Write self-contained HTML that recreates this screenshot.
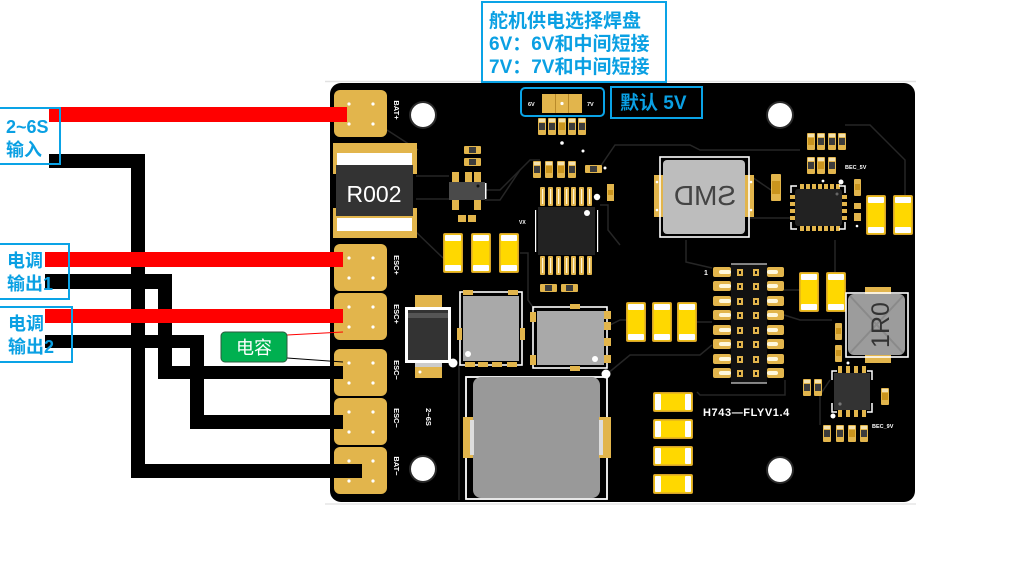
<!DOCTYPE html>
<html><head><meta charset="utf-8"><style>
html,body{margin:0;padding:0;background:#fff;}
svg{display:block;}
</style></head><body>
<svg width="1030" height="577" viewBox="0 0 1030 577" xmlns="http://www.w3.org/2000/svg" font-family="'Liberation Sans','Noto Sans CJK SC',sans-serif">
<defs>
<g id="capV"><rect x="0" y="0" width="20" height="40" rx="2" fill="#d6a22a"/><rect x="1.5" y="1.5" width="17" height="37" fill="#ffd800"/><rect x="2" y="2" width="16" height="6" rx="1" fill="#fff"/><rect x="2" y="32" width="16" height="6" rx="1" fill="#fff"/></g>
<g id="capH"><rect x="0" y="0" width="40" height="20" rx="2" fill="#d6a22a"/><rect x="1.5" y="1.5" width="37" height="17" fill="#ffd800"/><rect x="2" y="2" width="6" height="16" rx="1" fill="#fff"/><rect x="32" y="2" width="6" height="16" rx="1" fill="#fff"/></g>
<g id="resV"><rect x="0" y="0" width="8" height="17" rx="1" fill="#e2b54c"/><rect x="1" y="5" width="6" height="7" fill="#3c3c3c"/><rect x="1" y="1" width="6" height="3" fill="#f4e2b0"/></g>
<g id="resVg"><rect x="0" y="0" width="8" height="17" rx="1" fill="#e2b54c"/><rect x="1" y="5" width="6" height="7" fill="#c9941e"/><rect x="1" y="1" width="6" height="3" fill="#f4e2b0"/></g>
<g id="resH"><rect x="0" y="0" width="17" height="8" rx="1" fill="#e2b54c"/><rect x="5" y="1" width="7" height="6" fill="#3c3c3c"/></g>
<g id="pin"><rect x="0" y="0" width="5" height="19" rx="1" fill="#e2b54c"/><rect x="2" y="2" width="1.2" height="15" fill="#fff6d8"/></g>
<g id="pad"><rect x="0" y="0" width="53" height="47" rx="6" fill="#e2b54c"/><circle cx="15" cy="14" r="1.6" fill="#fff"/><circle cx="39" cy="14" r="1.6" fill="#fff"/><circle cx="15" cy="34" r="1.6" fill="#fff"/><circle cx="39" cy="34" r="1.6" fill="#fff"/></g>
<g id="hole"><circle cx="0" cy="0" r="14" fill="#2a2a2a"/><circle cx="0" cy="0" r="12" fill="#fff"/></g>
<g id="hdrRow"><rect x="0" y="0" width="18" height="10" rx="2" fill="#e2b54c"/><rect x="6" y="3" width="12" height="4" rx="2" fill="#fff8dc"/><rect x="54" y="0" width="17" height="10" rx="2" fill="#e2b54c"/><rect x="54" y="3" width="11" height="4" rx="2" fill="#fff8dc"/><rect x="24" y="2" width="6" height="7" fill="#e2b54c"/><rect x="26" y="4" width="2" height="3" fill="#111"/><rect x="40" y="2" width="6" height="7" fill="#e2b54c"/><rect x="42" y="4" width="2" height="3" fill="#111"/></g>
</defs>

<!-- faint frame lines -->
<line x1="325" y1="81.5" x2="916" y2="81.5" stroke="#e2e2e2" stroke-width="1.5"/>
<line x1="325" y1="504" x2="916" y2="504" stroke="#e6e6e6" stroke-width="1.5"/>

<!-- board -->
<rect x="330" y="83" width="585" height="419" rx="11" fill="#000"/>

<!-- traces -->
<g stroke="#262626" stroke-width="1.5" fill="none">
<path d="M416 176 H449 M416 199 H449"/>
<path d="M387 130 L418 150"/>
<path d="M416 232 L443 258"/>
<path d="M485 190 L500 190 L530 160 L540 160"/>
<path d="M485 200 L500 200 L520 170"/>
<path d="M520 253 L528 253 L528 300 L535 310"/>
<path d="M600 205 L608 205 L608 230 L620 245"/>
<path d="M598 170 L615 145 L660 145 L690 145 L700 150 L800 150"/>
<path d="M749 218 L790 218"/>
<path d="M749 175 L771 190"/>
<path d="M580 340 L620 320 L626 320"/>
<path d="M607 374 L630 355 L700 355 L712 345"/>
<path d="M459 365 V500"/>
<path d="M697 322 L712 322"/>
<path d="M784 290 L799 290"/>
<path d="M784 315 L800 320 L832 320"/>
<path d="M785 380 L785 395 L700 395 L697 392"/>
<path d="M846 290 L835 275 L835 240"/>
<path d="M830 380 L820 395 L820 425"/>
<path d="M686 240 V262 L712 268"/>
<path d="M845 125 L870 125 L905 160 L905 195"/>
</g>

<!-- left pads -->
<use href="#pad" x="334" y="90"/>
<use href="#pad" x="334" y="244"/>
<use href="#pad" x="334" y="293"/>
<use href="#pad" x="334" y="349"/>
<use href="#pad" x="334" y="398"/>
<use href="#pad" x="334" y="447"/>

<!-- pad labels -->
<g fill="#fff" font-size="7.5" font-weight="bold" text-anchor="middle">
<text transform="translate(394,110) rotate(90)">BAT+</text>
<text transform="translate(394,265) rotate(90)">ESC+</text>
<text transform="translate(394,314) rotate(90)">ESC+</text>
<text transform="translate(394,370) rotate(90)">ESC−</text>
<text transform="translate(394,418) rotate(90)">ESC−</text>
<text transform="translate(394,466) rotate(90)">BAT−</text>
<text transform="translate(426,417) rotate(90)">2~6S</text>
</g>

<!-- holes -->
<use href="#hole" x="423" y="115"/>
<use href="#hole" x="780" y="115"/>
<use href="#hole" x="423" y="469"/>
<use href="#hole" x="780" y="470"/>

<!-- R002 shunt -->
<rect x="333" y="143" width="84" height="31" fill="#e2b54c"/>
<rect x="333" y="208" width="84" height="30" fill="#e2b54c"/>
<rect x="337" y="153" width="75" height="12" fill="#fff"/>
<rect x="337" y="218" width="75" height="13" fill="#fff"/>
<rect x="336" y="165" width="77" height="51" fill="#333"/>
<text x="374" y="202" font-size="23" fill="#fff" text-anchor="middle">R002</text>

<!-- sense amp area -->
<use href="#resH" x="464" y="146"/>
<use href="#resH" x="464" y="158"/>
<rect x="452" y="172" width="7" height="10" fill="#e2b54c"/>
<rect x="465" y="172" width="7" height="10" fill="#e2b54c"/>
<rect x="474" y="172" width="7" height="10" fill="#e2b54c"/>
<rect x="452" y="200" width="7" height="10" fill="#e2b54c"/>
<rect x="474" y="200" width="7" height="10" fill="#e2b54c"/>
<rect x="449" y="182" width="36" height="18" fill="#4a4a4a"/>
<rect x="485" y="183" width="1.5" height="16" fill="#fff"/>
<circle cx="478" cy="186" r="1.5" fill="#111"/>
<rect x="458" y="215" width="8" height="7" fill="#e2b54c"/><rect x="468" y="215" width="8" height="7" fill="#e2b54c"/>

<!-- 3 yellow caps -->
<use href="#capV" x="443" y="233"/>
<use href="#capV" x="471" y="233"/>
<use href="#capV" x="499" y="233"/>

<!-- jumper resistors row -->
<use href="#resV" x="538" y="118"/>
<use href="#resV" x="548" y="118"/>
<use href="#resVg" x="558" y="118"/>
<use href="#resV" x="568" y="118"/>
<use href="#resV" x="578" y="118"/>
<circle cx="562" cy="143" r="1.8" fill="#fff"/>
<circle cx="583" cy="151" r="1.5" fill="#fff"/>

<!-- TSSOP IC -->
<use href="#resV" x="533" y="161"/>
<use href="#resVg" x="545" y="161"/>
<use href="#resVg" x="557" y="161"/>
<use href="#resV" x="568" y="161"/>
<use href="#resH" x="585" y="165"/>
<circle cx="605" cy="168" r="1.5" fill="#fff"/>
<use href="#pin" x="540" y="187"/><use href="#pin" x="548" y="187"/><use href="#pin" x="556" y="187"/><use href="#pin" x="564" y="187"/><use href="#pin" x="571" y="187"/><use href="#pin" x="579" y="187"/><use href="#pin" x="587" y="187"/>
<use href="#pin" x="540" y="256"/><use href="#pin" x="548" y="256"/><use href="#pin" x="556" y="256"/><use href="#pin" x="564" y="256"/><use href="#pin" x="571" y="256"/><use href="#pin" x="579" y="256"/><use href="#pin" x="587" y="256"/>
<rect x="538" y="207" width="57" height="48" fill="#222"/>
<rect x="535" y="210" width="1.2" height="42" fill="#fff"/>
<rect x="597" y="210" width="1.2" height="42" fill="#fff"/>
<circle cx="587" cy="213" r="3" fill="#fff"/>
<circle cx="597" cy="197" r="3.2" fill="#fff"/>
<rect x="607" y="184" width="7" height="17" fill="#e2b54c"/><rect x="608" y="190" width="5" height="5" fill="#c9941e"/>
<text x="519" y="224" font-size="5" fill="#fff" font-weight="bold">VX</text>
<use href="#resH" x="540" y="284"/>
<use href="#resH" x="561" y="284"/>

<!-- diode -->
<rect x="415" y="295" width="27" height="13" fill="#e2b54c"/>
<rect x="415" y="362" width="27" height="16" fill="#e2b54c"/>
<rect x="405" y="307" width="46" height="56" fill="#fff"/>
<rect x="408" y="310" width="40" height="50" fill="#333"/>
<rect x="408" y="313" width="40" height="5" fill="#555"/>
<rect x="415" y="363" width="27" height="4" fill="#ccc"/>
<circle cx="420" cy="372" r="1.5" fill="#fff"/>
<circle cx="453" cy="363" r="4.5" fill="#fff"/>

<!-- inductor 1 -->
<rect x="460" y="292" width="62" height="73" fill="none" stroke="#fff" stroke-width="1.6"/>
<rect x="463" y="296" width="56" height="65" fill="#a9a9a9"/>
<rect x="463" y="290" width="10" height="5" fill="#e2b54c"/><rect x="508" y="290" width="10" height="5" fill="#e2b54c"/>
<rect x="465" y="362" width="10" height="5" fill="#e2b54c"/><rect x="478" y="362" width="10" height="5" fill="#e2b54c"/><rect x="492" y="362" width="10" height="5" fill="#e2b54c"/><rect x="507" y="362" width="10" height="5" fill="#e2b54c"/>
<rect x="457" y="328" width="5" height="12" fill="#e2b54c"/><rect x="520" y="328" width="5" height="12" fill="#e2b54c"/>
<circle cx="468" cy="354" r="3" fill="#fff"/>

<!-- inductor 2 -->
<rect x="533" y="307" width="74" height="61" fill="none" stroke="#fff" stroke-width="1.6"/>
<rect x="537" y="311" width="67" height="54" fill="#a9a9a9"/>
<rect x="570" y="304" width="10" height="5" fill="#e2b54c"/><rect x="570" y="366" width="10" height="5" fill="#e2b54c"/>
<rect x="604" y="311" width="7" height="8" fill="#e2b54c"/><rect x="604" y="322" width="7" height="8" fill="#e2b54c"/><rect x="604" y="338" width="7" height="8" fill="#e2b54c"/><rect x="604" y="355" width="7" height="8" fill="#e2b54c"/>
<rect x="530" y="312" width="6" height="10" fill="#e2b54c"/><rect x="530" y="355" width="6" height="10" fill="#e2b54c"/>
<circle cx="595" cy="359" r="3" fill="#fff"/>
<circle cx="606" cy="374" r="4.5" fill="#fff"/>

<!-- big inductor -->
<rect x="466" y="377" width="141" height="122" fill="none" stroke="#fff" stroke-width="1.8"/>
<rect x="473" y="377" width="127" height="121" rx="8" fill="#999"/>
<rect x="463" y="417" width="10" height="41" fill="#e2b54c"/><rect x="470" y="420" width="4" height="35" fill="#ddd"/>
<rect x="599" y="417" width="12" height="41" fill="#e2b54c"/><rect x="599" y="420" width="4" height="35" fill="#ddd"/>

<!-- 4 horizontal caps -->
<use href="#capH" x="653" y="392"/>
<use href="#capH" x="653" y="419"/>
<use href="#capH" x="653" y="446"/>
<use href="#capH" x="653" y="474"/>

<!-- SMD inductor -->
<rect x="654" y="175" width="11" height="42" fill="#e2b54c"/>
<rect x="743" y="175" width="11" height="42" fill="#e2b54c"/>
<circle cx="657" cy="182" r="1.3" fill="#fff"/><circle cx="657" cy="210" r="1.3" fill="#fff"/>
<circle cx="751" cy="182" r="1.3" fill="#fff"/><circle cx="751" cy="210" r="1.3" fill="#fff"/>
<rect x="660" y="157" width="89" height="80" fill="none" stroke="#fff" stroke-width="1.6"/>
<rect x="663" y="160" width="82" height="74" rx="4" fill="#bdbdbd"/>
<text transform="translate(705,205) scale(-1,1)" font-size="28" fill="#444" text-anchor="middle">SMD</text>

<!-- right top small parts -->
<rect x="771" y="174" width="10" height="27" rx="1" fill="#e2b54c"/><rect x="772" y="181" width="8" height="13" fill="#c9941e"/>
<use href="#resVg" x="807" y="133"/><use href="#resV" x="817" y="133"/><use href="#resV" x="828" y="133"/><use href="#resV" x="838" y="133"/>
<use href="#resV" x="807" y="157"/><use href="#resVg" x="817" y="157"/><use href="#resV" x="828" y="157"/>
<text x="845" y="169" font-size="5.5" fill="#fff" font-weight="bold">BEC_5V</text>

<!-- QFN -->
<g fill="#e2b54c">
<rect x="800" y="184" width="4" height="5"/><rect x="806" y="184" width="4" height="5"/><rect x="812" y="184" width="4" height="5"/><rect x="818" y="184" width="4" height="5"/><rect x="824" y="184" width="4" height="5"/><rect x="830" y="184" width="4" height="5"/><rect x="836" y="184" width="4" height="5"/>
<rect x="800" y="226" width="4" height="5"/><rect x="806" y="226" width="4" height="5"/><rect x="812" y="226" width="4" height="5"/><rect x="818" y="226" width="4" height="5"/><rect x="824" y="226" width="4" height="5"/><rect x="830" y="226" width="4" height="5"/><rect x="836" y="226" width="4" height="5"/>
<rect x="790" y="195" width="5" height="4"/><rect x="790" y="202" width="5" height="4"/><rect x="790" y="209" width="5" height="4"/><rect x="790" y="216" width="5" height="4"/>
<rect x="842" y="195" width="5" height="4"/><rect x="842" y="202" width="5" height="4"/><rect x="842" y="209" width="5" height="4"/><rect x="842" y="216" width="5" height="4"/>
</g>
<rect x="795" y="189" width="47" height="37" rx="3" fill="#222"/>
<path d="M791 193 V186 H797 M839 186 H845 V193 M791 222 V229 H797 M839 229 H845 V222" stroke="#fff" stroke-width="1.5" fill="none"/>
<circle cx="837" cy="194" r="1.5" fill="#666"/>
<circle cx="823" cy="181" r="1.4" fill="#fff"/><circle cx="841" cy="182" r="2.5" fill="#fff"/>
<rect x="854" y="179" width="7" height="17" rx="1" fill="#e2b54c"/><rect x="855" y="184" width="5" height="6" fill="#c9941e"/>
<rect x="854" y="203" width="7" height="6" fill="#e2b54c"/><rect x="854" y="213" width="7" height="8" fill="#e2b54c"/>
<circle cx="857" cy="226" r="1.3" fill="#fff"/>
<use href="#capV" x="866" y="195"/>
<use href="#capV" x="893" y="195"/>

<!-- header -->
<rect x="731" y="264" width="36" height="119" fill="#111"/>
<line x1="731" y1="264" x2="767" y2="264" stroke="#fff" stroke-width="1"/>
<line x1="731" y1="383" x2="767" y2="383" stroke="#fff" stroke-width="1"/>
<use href="#hdrRow" x="713" y="267"/>
<use href="#hdrRow" x="713" y="281"/>
<use href="#hdrRow" x="713" y="296"/>
<use href="#hdrRow" x="713" y="310"/>
<use href="#hdrRow" x="713" y="325"/>
<use href="#hdrRow" x="713" y="339"/>
<use href="#hdrRow" x="713" y="354"/>
<use href="#hdrRow" x="713" y="368"/>
<text x="704" y="275" font-size="7" fill="#fff" font-weight="bold">1</text>

<!-- 3 caps mid -->
<use href="#capV" x="626" y="302"/>
<use href="#capV" x="652" y="302"/>
<use href="#capV" x="677" y="302"/>

<!-- 2 caps right -->
<use href="#capV" x="799" y="272"/>
<use href="#capV" x="826" y="272"/>

<!-- 1R0 inductor -->
<rect x="865" y="287" width="26" height="8" fill="#e2b54c"/>
<rect x="865" y="355" width="26" height="8" fill="#e2b54c"/>
<rect x="846" y="293" width="62" height="64" fill="none" stroke="#fff" stroke-width="1.6"/>
<rect x="848" y="294" width="57" height="61" rx="6" fill="#9c9c9c"/>
<path d="M850 296 L903 353 M903 296 L850 353" stroke="#8a8a8a" stroke-width="2"/>
<text transform="translate(889,325) rotate(-90)" font-size="25" fill="#333" text-anchor="middle">1R0</text>
<rect x="835" y="323" width="7" height="17" rx="1" fill="#e2b54c"/><rect x="836" y="328" width="5" height="6" fill="#c9941e"/>
<rect x="835" y="345" width="7" height="17" rx="1" fill="#e2b54c"/><rect x="836" y="350" width="5" height="6" fill="#c9941e"/>
<circle cx="848" cy="363" r="1.5" fill="#fff"/>

<!-- SOIC-8 -->
<g fill="#e2b54c">
<rect x="838" y="366" width="4" height="7"/><rect x="846" y="366" width="4" height="7"/><rect x="854" y="366" width="4" height="7"/><rect x="862" y="366" width="4" height="7"/>
<rect x="838" y="410" width="4" height="7"/><rect x="846" y="410" width="4" height="7"/><rect x="854" y="410" width="4" height="7"/><rect x="862" y="410" width="4" height="7"/>
</g>
<rect x="834" y="373" width="36" height="37" fill="#333"/>
<path d="M832 380 V371 H837 M867 371 H872 V380 M832 403 V412 H837 M867 412 H872 V403" stroke="#fff" stroke-width="1.5" fill="none"/>
<circle cx="840" cy="404" r="1.6" fill="#777"/>
<circle cx="833" cy="416" r="2.5" fill="#fff"/>
<use href="#resV" x="803" y="379"/>
<use href="#resV" x="814" y="379"/>
<use href="#resVg" x="881" y="388"/>
<use href="#resV" x="823" y="425"/><use href="#resV" x="836" y="425"/><use href="#resVg" x="848" y="425"/><use href="#resV" x="860" y="425"/>
<text x="872" y="428" font-size="5.5" fill="#fff" font-weight="bold">BEC_9V</text>

<text x="703" y="416" font-size="11" fill="#fff" font-weight="bold" letter-spacing="0.6">H743—FLYV1.4</text>

<!-- wires black -->
<g fill="#000">
<rect x="49" y="154" width="96" height="14"/>
<rect x="131" y="154" width="14" height="324"/>
<rect x="131" y="464" width="231" height="14"/>
<rect x="45" y="274" width="127" height="15"/>
<rect x="158" y="274" width="14" height="105"/>
<rect x="158" y="366" width="185" height="13"/>
<rect x="45" y="335" width="159" height="13"/>
<rect x="190" y="335" width="14" height="94"/>
<rect x="190" y="415" width="153" height="14"/>
</g>
<!-- wires red -->
<g fill="#ff0000">
<rect x="49" y="107" width="298" height="15"/>
<rect x="45" y="252" width="298" height="15"/>
<rect x="45" y="309" width="298" height="14"/>
</g>

<!-- capacitor label -->
<line x1="287" y1="335" x2="343" y2="332" stroke="#ff0000" stroke-width="1"/>
<line x1="287" y1="358" x2="343" y2="362" stroke="#000" stroke-width="1"/>
<rect x="221" y="332" width="66" height="30" rx="4" fill="#00b050" stroke="#2b5a3c" stroke-width="1"/>
<text x="254" y="354" font-size="18" fill="#fff" text-anchor="middle">电容</text>

<!-- blue label boxes -->
<g fill="none" stroke="#0aa3e6" stroke-width="2">
<rect x="-1" y="108" width="61" height="56"/>
<rect x="-1" y="244" width="70" height="55"/>
<rect x="-1" y="307" width="73" height="55"/>
<rect x="482" y="2" width="184" height="80"/>
<rect x="521" y="88" width="83" height="28" rx="4"/>
<rect x="611" y="87" width="91" height="31"/>
</g>
<g fill="#0aa0e3" font-size="18" font-weight="bold">
<text x="6" y="133">2~6S</text>
<text x="6" y="156">输入</text>
<text x="7" y="267">电调</text>
<text x="7" y="290">输出1</text>
<text x="8" y="330">电调</text>
<text x="8" y="353">输出2</text>
</g>
<g fill="#0aa0e3" font-size="19" font-weight="bold">
<text x="489" y="27">舵机供电选择焊盘</text>
<text x="489" y="50">6V：6V和中间短接</text>
<text x="489" y="73">7V：7V和中间短接</text>
<text x="620" y="109">默认 5V</text>
</g>

<!-- solder jumper -->
<rect x="542" y="94" width="40" height="19" fill="#e2b54c"/>
<line x1="555.5" y1="94" x2="555.5" y2="113" stroke="#b88a2a" stroke-width="1"/>
<line x1="568.5" y1="94" x2="568.5" y2="113" stroke="#b88a2a" stroke-width="1"/>
<circle cx="562" cy="103.5" r="1.6" fill="#fff"/>
<text x="528" y="106" font-size="5.5" fill="#fff" font-weight="bold">6V</text>
<text x="587" y="106" font-size="5.5" fill="#fff" font-weight="bold">7V</text>
</svg>
</body></html>
